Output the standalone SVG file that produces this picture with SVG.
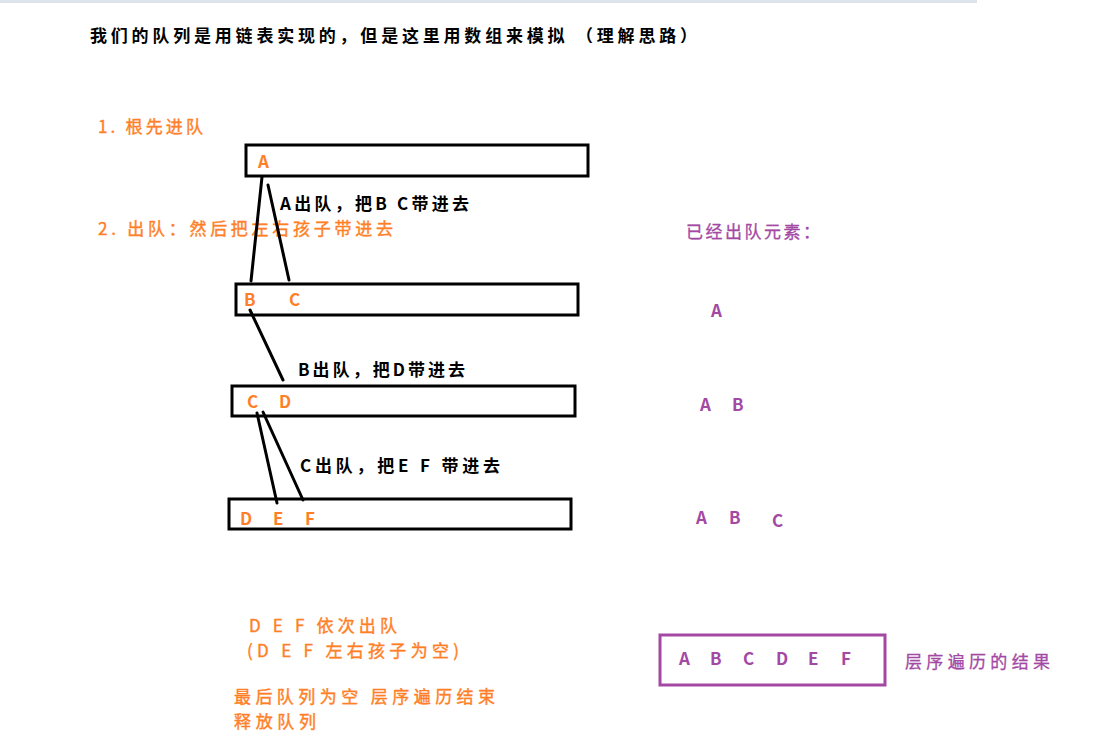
<svg xmlns="http://www.w3.org/2000/svg" width="1112" height="756" viewBox="0 0 1112 756">
<style>
text{font-family:"Noto Sans CJK SC","Noto Sans",sans-serif;font-size:17px;}
.blk{fill:#000;font-weight:bold;}
.org{fill:#FF7F27;stroke:#FF7F27;stroke-width:0.4;}
.pur{fill:#A349A4;stroke:#A349A4;stroke-width:0.3;}
.ltr{font-weight:bold;stroke:none;}
.box{fill:#fff;stroke:#000;stroke-width:3;}
.pbox{fill:#fff;stroke:#A349A4;stroke-width:3;}
.ln{stroke:#000;stroke-width:3;fill:none;stroke-linecap:round;}
</style>
<rect x="0" y="0" width="1112" height="756" fill="#fff"/>
<rect x="0" y="0" width="977" height="3" fill="#DCE3EA"/>
<text class="blk" x="90" y="42" textLength="607" lengthAdjust="spacing">我们的队列是用链表实现的，但是这里用数组来模拟  （理解思路）</text>
<text class="org" x="98" y="133" textLength="105" lengthAdjust="spacing">1. 根先进队</text>
<text class="org" x="98" y="235" textLength="295" lengthAdjust="spacing">2. 出队：然后把左右孩子带进去</text>

<g id="queue1">
<rect class="box" x="246" y="145" width="342" height="31"/>
<text class="org ltr" x="258" y="168">A</text>
</g>
<g id="queue2">
<rect class="box" x="236" y="284" width="342" height="31"/>
<text class="org ltr" x="244" y="306">B</text>
<text class="org ltr" x="289" y="306">C</text>
</g>
<g id="queue3">
<rect class="box" x="232" y="386" width="343" height="30"/>
<text class="org ltr" x="247" y="408">C</text>
<text class="org ltr" x="279" y="408">D</text>
</g>
<g id="queue4">
<rect class="box" x="229" y="499" width="342" height="30"/>
<text class="org ltr" x="240" y="525">D</text>
<text class="org ltr" x="273" y="525">E</text>
<text class="org ltr" x="305" y="525">F</text>
</g>

<g id="connectors">
<line class="ln" x1="262" y1="177" x2="251" y2="281"/>
<line class="ln" x1="268" y1="185" x2="289" y2="280"/>
<line class="ln" x1="250" y1="310" x2="283" y2="380"/>
<line class="ln" x1="257" y1="413" x2="277" y2="503"/>
<line class="ln" x1="263" y1="412" x2="303" y2="500"/>
</g>

<text class="blk" x="280" y="210" textLength="189" lengthAdjust="spacing">A出队，把B C带进去</text>
<text class="blk" x="298" y="376" textLength="167" lengthAdjust="spacing">B出队，把D带进去</text>
<text class="blk" x="300" y="472" textLength="200" lengthAdjust="spacing">C出队，把E F 带进去</text>

<text class="pur" x="686" y="238" textLength="134" lengthAdjust="spacing">已经出队元素：</text>
<text class="pur ltr" x="711" y="317">A</text>
<text class="pur ltr" x="700" y="411">A</text>
<text class="pur ltr" x="732" y="411">B</text>
<text class="pur ltr" x="696" y="524">A</text>
<text class="pur ltr" x="729" y="524">B</text>
<text class="pur ltr" x="772" y="527">C</text>

<g id="result">
<rect class="pbox" x="660" y="635" width="225" height="50"/>
<text class="pur ltr" x="679" y="665">A</text>
<text class="pur ltr" x="710" y="665">B</text>
<text class="pur ltr" x="743" y="665">C</text>
<text class="pur ltr" x="776" y="665">D</text>
<text class="pur ltr" x="808" y="665">E</text>
<text class="pur ltr" x="841" y="665">F</text>
</g>
<text class="pur" x="905" y="668" textLength="145" lengthAdjust="spacing">层序遍历的结果</text>

<text class="org" x="249" y="632" textLength="148" lengthAdjust="spacing">D E F 依次出队</text>
<text class="org" x="247" y="657" textLength="212" lengthAdjust="spacing">(D E F 左右孩子为空)</text>
<text class="org" x="234" y="703" textLength="261" lengthAdjust="spacing">最后队列为空 层序遍历结束</text>
<text class="org" x="234" y="728" textLength="82" lengthAdjust="spacing">释放队列</text>
</svg>
